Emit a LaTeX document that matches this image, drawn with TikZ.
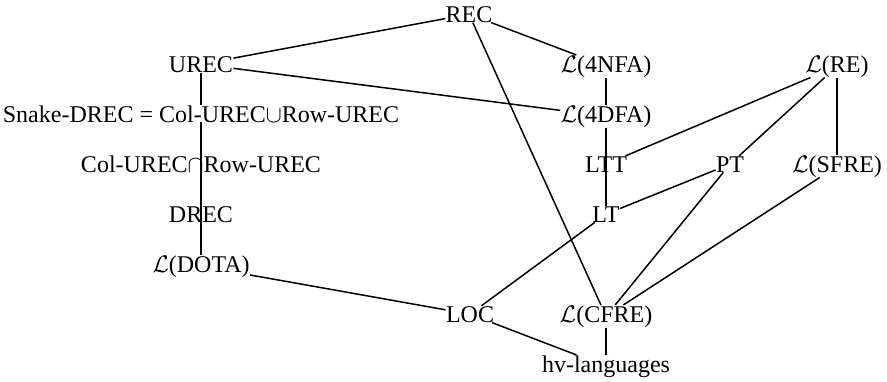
\documentclass[tikz,border=0pt]{standalone}
\usepackage{fontspec}
\setmainfont{Liberation Serif}
\usepackage{tikz}

\begin{document}
\begin{tikzpicture}[
  x=0.5pt, y=-0.5pt,
  cls/.style={inner sep=0pt, anchor=base, font=\fontsize{12}{14}\selectfont},
  incl/.style={line width=0.75pt}
]
\useasboundingbox (0,0) rectangle (887,381);

% classes, one row per level
\node[cls] (rec)    at (469,22)  {REC};
\node[cls] (urec)   at (201,72)  {UREC};
\node[cls] (l4nfa)  at (606,72)  {$\mathcal{L}$(4NFA)};
\node[cls] (lre)    at (837,72)  {$\mathcal{L}$(RE)};
\node[cls] (snake)  at (201,122) {Snake-DREC = Col-UREC$\cup$Row-UREC};
\node[cls] (l4dfa)  at (606,122) {$\mathcal{L}$(4DFA)};
\node[cls] (colrow) at (201,172) {Col-UREC$\cap$Row-UREC};
\node[cls] (ltt)    at (606,172) {LTT};
\node[cls] (pt)     at (730,172) {PT};
\node[cls] (lsfre)  at (837,172) {$\mathcal{L}$(SFRE)};
\node[cls] (drec)   at (201,222) {DREC};
\node[cls] (lt)     at (606,222) {LT};
\node[cls] (ldota)  at (201,272) {$\mathcal{L}$(DOTA)};
\node[cls] (loc)    at (470,322) {LOC};
\node[cls] (lcfre)  at (606,322) {$\mathcal{L}$(CFRE)};
\node[cls] (hv)     at (606,372) {hv-languages};

% inclusions
\draw[incl] (rec) -- (urec);
\draw[incl] (rec) -- (l4nfa);
\draw[incl] (rec) -- (lcfre);
\draw[incl] (urec) -- (l4dfa);
\draw[incl] (urec) -- (snake);
\draw[incl] (snake.base) -- (colrow.center) -- (drec.center) -- (ldota);
\draw[incl] (l4nfa) -- (l4dfa);
\draw[incl] (l4dfa) -- (ltt.center) -- (lt);
\draw[incl] (lre) -- (ltt);
\draw[incl] (lre) -- (pt);
\draw[incl] (lre) -- (lsfre);
\draw[incl] (pt) -- (lt);
\draw[incl] (pt) -- (lcfre);
\draw[incl] (lsfre) -- (lcfre);
\draw[incl] (lt) -- (loc);
\draw[incl] (ldota) -- (loc);
\draw[incl] (loc) -- (hv);
\draw[incl] (lcfre) -- (hv);
\end{tikzpicture}
\end{document}
